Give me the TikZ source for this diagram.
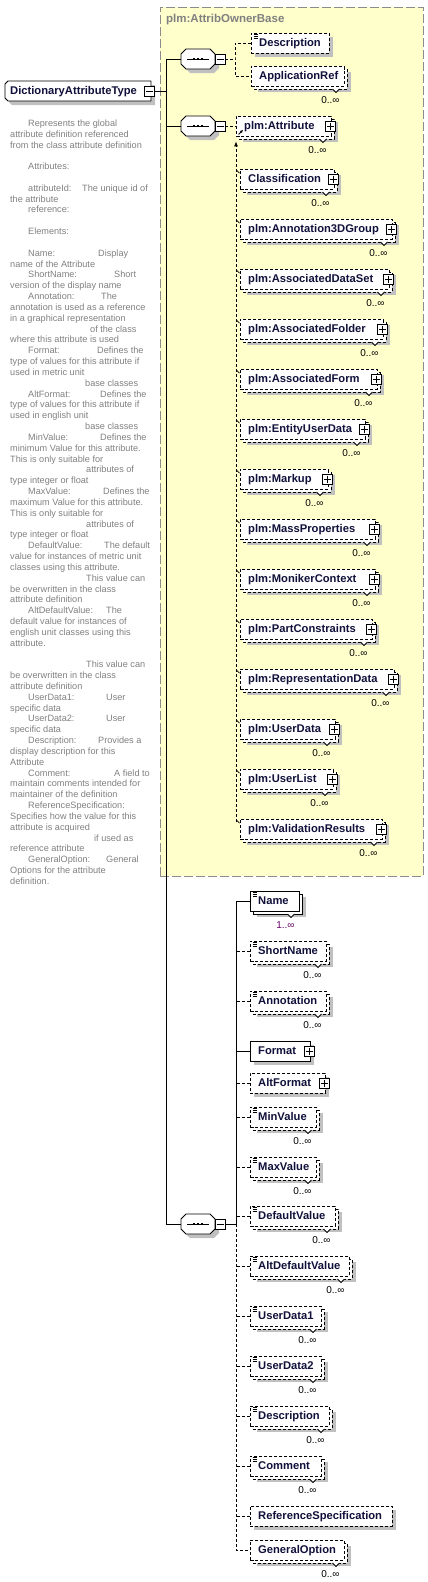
\documentclass[tikz,border=0pt]{standalone}
\usepackage{fontspec}
\setmainfont{Liberation Sans}
\usetikzlibrary{shadows,arrows.meta,calc}

\definecolor{bgyellow}{HTML}{FFFFCC}
\definecolor{bordergray}{HTML}{8C8C8C}
\definecolor{shadowc}{HTML}{C0C0C0}
\definecolor{desctext}{HTML}{808080}
\definecolor{nametext}{HTML}{10103A}
\definecolor{multone}{HTML}{660066}

\tikzset{
  ebox/.style={draw=black, fill=white, line width=0.8pt, inner sep=0pt, minimum height=20pt, anchor=west},
  optbox/.style={dash pattern=on 3pt off 2pt},
  reqbox/.style={solid},
  elabel/.style={font=\fontsize{11.2pt}{13pt}\selectfont\bfseries, text=nametext, inner sep=0pt, anchor=base west},
  mult/.style={font=\fontsize{10pt}{12pt}\selectfont, inner sep=0pt, anchor=base east},
  conn/.style={line width=0.8pt, draw=black},
  optconn/.style={conn, dash pattern=on 3pt off 2pt},
  pmbox/.style={draw, fill=white, line width=0.8pt, minimum size=10pt, inner sep=0pt},
  anchorbox/.style={draw=none, inner sep=0pt, outer sep=0pt},
  outline/.style={draw=black, fill=white, line width=0.8pt, line join=round},
  grpbox/.style={draw=bordergray, fill=bgyellow, line width=0.9pt, dash pattern=on 9pt off 3pt, inner sep=0pt},
  desc/.style={anchor=north west, align=left, inner sep=0pt, text=desctext, font=\fontsize{9.15pt}{10.83pt}\selectfont},
}

% plain element box: [style]{name}{x1}{yc}{x2}{text}
\newcommand\elplain[6][optbox]{%
  \fill[shadowc] (#3+4,#4-6) rectangle (#5+4,#4+14);
  \node[ebox,#1,minimum width=#5pt-#3pt] (#2) at (#3,#4) {};
  \node[elabel] (#2-t) at (#3+8,#4+3.5) {#6};
}
% stacked element box
\newcommand\elstack[6][optbox]{%
  \fill[shadowc] (#3+7,#4-4) rectangle (#5+7,#4+16);
  \draw[fill=white, line width=0.8pt, #1] (#3+3,#4-7) rectangle (#5+3,#4+13);
  \draw[fill=white, line width=0.8pt, solid] (#5-11.5,#4+13) -- (#5-8,#4+16.5) -- (#5-4.5,#4+13);
  \node[ebox,#1,minimum width=#5pt-#3pt] (#2) at (#3,#4) {};
  \node[elabel] (#2-t) at (#3+8,#4+3.5) {#6};
}
\newcommand\elmult[3][black]{\node[mult,text=#1] (#2-m) at ($(#2.south east)+(-5,17)$) {#3};}
\newcommand\elplus[1]{%
  \node[pmbox] (#1-p) at ($(#1.east)+(-1,0)$) {};
  \draw[line width=0.8pt] ($(#1-p.center)+(-3.5,0)$) -- ++(7,0) ($(#1-p.center)+(0,-3.5)$) -- ++(0,7);
}
\newcommand\elicon[1]{%
  \draw[line width=0.7pt] ($(#1.north west)+(2.5,1.8)$) -- ++(4.5,0)
    ($(#1.north west)+(2.5,3.8)$) -- ++(4.5,0)
    ($(#1.north west)+(2.5,5.8)$) -- ++(4.5,0);
}
\newcommand\minusbox[2]{%
  \node[pmbox] (#1) at (#2) {};
  \draw[line width=0.8pt] ($(#1.center)+(-3.5,0)$) -- ++(7,0);
}
\newcommand\octpath[1]{(186,#1-10) -- (210,#1-10) -- (215,#1-5) -- (215,#1+5) -- (210,#1+10) -- (186,#1+10) -- (181,#1+5) -- (181,#1-5) -- cycle}
\newcommand\seqsym[2]{%
  \node[anchorbox, minimum width=34pt, minimum height=20pt] (#1) at (198,#2) {};
  \begin{scope}[shift={(4,4)}]\fill[shadowc] \octpath{#2};\end{scope}
  \draw[outline] \octpath{#2};
  \draw[line width=0.8pt] ($(#1.center)+(-11,0)$) -- ++(22,0);
  \foreach \dx in {-4,0,4} \fill ($(#1.center)+(\dx-1.3,-1.3)$) rectangle ++(2.6,2.6);
  \minusbox{#1-m}{220,#2}
}
\newcommand\subtick[1]{\draw[conn] ($(#1.north west)+(-3.5,1.5)$) -- ++(3,3);}
\newcommand\twocol[3]{\makebox[#2pt][l]{\hspace*{18pt}#1}#3}
\newcommand\rootpath{(8,81) -- (151,81) -- (151,101) -- (8,101) -- (5,98) -- (5,84) -- cycle}

\begin{document}
\begin{tikzpicture}[x=1pt,y=-1pt]
\useasboundingbox (0,0) rectangle (428,1582);

% group background
\node[grpbox, minimum width=263pt, minimum height=869.5pt, anchor=north west] (grp) at (159.5,6.5) {};
\node[font=\fontsize{11.5pt}{13pt}\selectfont\bfseries, text=desctext, anchor=base west, inner sep=0pt] (grpt) at (166,23) {plm:AttribOwnerBase};

% root
\node[anchorbox, minimum width=146pt, minimum height=20pt, anchor=west] (root) at (5,91) {};
\begin{scope}[shift={(4,4)}]\fill[shadowc] \rootpath;\end{scope}
\draw[outline] \rootpath;
\node[elabel] (root-t) at (10,94.5) {DictionaryAttributeType};
\minusbox{root-m}{149,91}

% sequences
\seqsym{s1}{59}
\seqsym{s2}{126}
\seqsym{s3}{1224}

% trunk
\coordinate (tj) at (166,91);
\draw[conn] (root-m.east) -- (tj);
\draw[conn] (s1.west) -- (s1.west -| tj) -- (s3.west -| tj) -- (s3.west);
\draw[conn] (s2.west) -- (s2.west -| tj);

% ---- sequence 1
\elplain{desc1}{251}{43}{329}{Description}\elicon{desc1}
\elstack{appref}{251}{76}{344}{ApplicationRef}\elmult{appref}{0..∞}
\coordinate (b1) at (235,59);
\draw[optconn] (s1-m.east) -- (b1);
\draw[optconn] (desc1.west) -| (b1) |- (appref.west);

% ---- sequence 2
\elstack{attr}{236}{126}{331}{plm:Attribute}\elplus{attr}\elmult{attr}{0..∞}
\draw[line width=0.9pt, -{Latex[length=3pt,width=3pt]}] ($(attr.south west)+(2.5,-2)$) -- ++(4.5,-4.5);
\draw[optconn] (s2-m.east) -- (s2-m.east -| attr.west);

\elstack{classif}{240}{179}{334}{Classification}\elplus{classif}\elmult{classif}{0..∞}
\elstack{anngrp}{240}{229}{392}{plm:Annotation3DGroup}\elplus{anngrp}\elmult{anngrp}{0..∞}
\elstack{assocds}{240}{279}{389}{plm:AssociatedDataSet}\elplus{assocds}\elmult{assocds}{0..∞}
\elstack{assocfo}{240}{329}{383}{plm:AssociatedFolder}\elplus{assocfo}\elmult{assocfo}{0..∞}
\elstack{assocfm}{240}{379}{377}{plm:AssociatedForm}\elplus{assocfm}\elmult{assocfm}{0..∞}
\elstack{entity}{240}{429}{365}{plm:EntityUserData}\elplus{entity}\elmult{entity}{0..∞}
\elstack{markup}{240}{479}{328}{plm:Markup}\elplus{markup}\elmult{markup}{0..∞}
\elstack{mass}{240}{529}{375}{plm:MassProperties}\elplus{mass}\elmult{mass}{0..∞}
\elstack{moniker}{240}{579}{375}{plm:MonikerContext}\elplus{moniker}\elmult{moniker}{0..∞}
\elstack{partc}{240}{629}{372}{plm:PartConstraints}\elplus{partc}\elmult{partc}{0..∞}
\elstack{repr}{240}{679}{394}{plm:RepresentationData}\elplus{repr}\elmult{repr}{0..∞}
\elstack{userdata}{240}{729}{335}{plm:UserData}\elplus{userdata}\elmult{userdata}{0..∞}
\elstack{userlist}{240}{779}{333}{plm:UserList}\elplus{userlist}\elmult{userlist}{0..∞}
\elstack{valid}{240}{829}{382}{plm:ValidationResults}\elplus{valid}\elmult{valid}{0..∞}

\draw[optconn, -{Latex[length=5pt,width=4pt]}] ($(valid.north west)+(-4,3)$) -- ($(attr.south west)+(0,5)$);
\foreach \m in {classif,anngrp,assocds,assocfo,assocfm,entity,markup,mass,moniker,partc,repr,userdata,userlist,valid} {\subtick{\m}}

% ---- sequence 3
\elstack[reqbox]{name}{250}{901}{299}{Name}\elicon{name}\elmult[multone]{name}{1..∞}
\elstack{shortname}{250}{951}{326}{ShortName}\elicon{shortname}\elmult{shortname}{0..∞}
\elstack{annot}{250}{1001}{326}{Annotation}\elicon{annot}\elmult{annot}{0..∞}
\elplain[reqbox]{format}{250}{1051}{310}{Format}\elplus{format}
\elplain{altformat}{250}{1083}{325}{AltFormat}\elplus{altformat}
\elstack{minv}{250}{1117}{316}{MinValue}\elicon{minv}\elmult{minv}{0..∞}
\elstack{maxv}{250}{1167}{316}{MaxValue}\elicon{maxv}\elmult{maxv}{0..∞}
\elstack{defv}{250}{1216}{335}{DefaultValue}\elicon{defv}\elmult{defv}{0..∞}
\elstack{altdefv}{250}{1266}{349}{AltDefaultValue}\elicon{altdefv}\elmult{altdefv}{0..∞}
\elstack{ud1}{250}{1316}{321}{UserData1}\elicon{ud1}\elmult{ud1}{0..∞}
\elstack{ud2}{250}{1366}{321}{UserData2}\elicon{ud2}\elmult{ud2}{0..∞}
\elstack{descr}{250}{1416}{329}{Description}\elicon{descr}\elmult{descr}{0..∞}
\elstack{comment}{250}{1466}{321}{Comment}\elicon{comment}\elmult{comment}{0..∞}
\elplain{refspec}{250}{1516}{392}{ReferenceSpecification}
\elstack{genopt}{250}{1550}{344}{GeneralOption}\elmult{genopt}{0..∞}

\coordinate (b3) at (236,1224);
\draw[conn] (s3-m.east) -- (b3);
\draw[conn] (b3) |- (name.west);
\draw[conn] (format.west) -- (format.west -| b3);
\draw[optconn] (b3) |- (genopt.west);
\foreach \m in {shortname,annot,altformat,minv,maxv,defv,altdefv,ud1,ud2,descr,comment,refspec} {\draw[optconn] (\m.west) -- (\m.west -| b3);}

% ---- description text
\node[desc] (desc) at (10,119.5) {%
\hspace*{18pt}Represents the global\\
attribute definition referenced\\
from the class attribute definition\\
\mbox{}\\
\hspace*{18pt}Attributes:\\
\mbox{}\\
\twocol{attributeId:}{72}{The unique id of}\\
the attribute\\
\hspace*{18pt}reference:\\
\mbox{}\\
\hspace*{18pt}Elements:\\
\mbox{}\\
\twocol{Name:}{88}{Display}\\
name of the Attribute\\
\twocol{ShortName:}{104}{Short}\\
version of the display name\\
\twocol{Annotation:}{91}{The}\\
annotation is used as a reference\\
in a graphical representation\\
\hspace*{80pt}of the class\\
where this attribute is used\\
\twocol{Format:}{87}{Defines the}\\
type of values for this attribute if\\
used in metric unit\\
\hspace*{75pt}base classes\\
\twocol{AltFormat:}{90}{Defines the}\\
type of values for this attribute if\\
used in english unit\\
\hspace*{75pt}base classes\\
\twocol{MinValue:}{90}{Defines the}\\
minimum Value for this attribute.\\
This is only suitable for\\
\hspace*{76pt}attributes of\\
type integer or float\\
\twocol{MaxValue:}{93}{Defines the}\\
maximum Value for this attribute.\\
This is only suitable for\\
\hspace*{76pt}attributes of\\
type integer or float\\
\twocol{DefaultValue:}{94}{The default}\\
value for instances of metric unit\\
classes using this attribute.\\
\hspace*{76pt}This value can\\
be overwritten in the class\\
attribute definition\\
\twocol{AltDefaultValue:}{96}{The}\\
default value for instances of\\
english unit classes using this\\
attribute.\\
\mbox{}\\
\hspace*{76pt}This value can\\
be overwritten in the class\\
attribute definition\\
\twocol{UserData1:}{96}{User}\\
specific data\\
\twocol{UserData2:}{96}{User}\\
specific data\\
\twocol{Description:}{88}{Provides a}\\
display description for this\\
Attribute\\
\twocol{Comment:}{104}{A field to}\\
maintain comments intended for\\
maintainer of the definition\\
\hspace*{18pt}ReferenceSpecification:\\
Specifies how the value for this\\
attribute is acquired\\
\hspace*{84pt}if used as\\
reference attribute\\
\twocol{GeneralOption:}{96}{General}\\
Options for the attribute\\
definition.};
\end{tikzpicture}
\end{document}
